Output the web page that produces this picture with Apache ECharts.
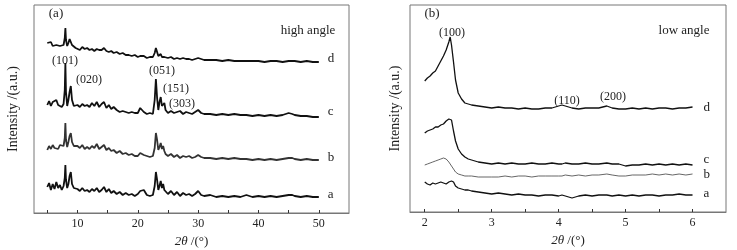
<!DOCTYPE html>
<html>
<head>
<meta charset="utf-8">
<script src="https://cdn.jsdelivr.net/npm/echarts@6/dist/echarts.min.js"></script>
<style>
  html, body { margin: 0; padding: 0; background: #fff; }
  #chart { width: 737px; height: 250px; }
</style>
</head>
<body>
<div id="chart"></div>
<script>
// (a) high angle: 2theta grid shared by the four patterns
var angleHigh = [
  5, 5.3, 5.6, 5.9, 6.2, 6.5, 6.8, 7.1, 7.4, 7.7,
  7.9, 8.0, 8.1, 8.3, 8.5, 8.7, 8.9, 9.1, 9.4, 9.7,
  10, 10.4, 10.8, 11.2, 11.6, 12, 12.4, 12.8, 13.2, 13.6,
  14, 14.4, 14.8, 15.2, 15.6, 16, 16.5, 17, 17.5, 18,
  18.5, 19, 19.5, 20, 20.4, 20.7, 21, 21.5, 22, 22.5,
  22.8, 23.0, 23.2, 23.4, 23.6, 23.8, 24.0, 24.2, 24.4, 24.6,
  25, 25.5, 26, 26.5, 27, 27.5, 28, 28.5, 29, 29.5,
  30, 30.5, 31, 32, 33, 34, 35, 36, 37, 38,
  39, 40, 41, 42, 43, 44, 45, 45.3, 45.6, 46,
  47, 48, 49, 50
]
// intensities, stacked with offsets (a.u.)
var highA = [
  26, 30, 23, 29, 24, 31, 25, 28, 23, 27,
  35, 48, 33, 25, 29, 37, 41, 29, 25, 23,
  24, 22, 25, 22, 23, 21, 24, 22, 25, 21,
  23, 26, 21, 24, 20, 22, 19, 21, 18, 20,
  18, 19, 17, 19, 22, 20, 23, 18, 17, 18,
  27, 41, 33, 23, 27, 32, 25, 29, 23, 21,
  19, 22, 18, 21, 17, 20, 18, 19, 17, 19,
  22, 18, 17, 18, 16, 17, 16, 17, 16, 18,
  16, 17, 16, 17, 16, 17, 18, 20, 18, 17,
  16, 17, 16, 16
]
var highB = [
  63, 67, 64, 68, 65, 67, 64, 68, 66, 67,
  75, 90, 73, 66, 71, 77, 80, 71, 67, 65,
  67, 65, 68, 64, 66, 64, 67, 65, 69, 64,
  66, 68, 63, 65, 62, 63, 60, 62, 59, 60,
  58, 59, 57, 57, 60, 62, 58, 57, 56, 57,
  65, 80, 73, 63, 66, 70, 64, 67, 62, 59,
  57, 59, 56, 58, 55, 57, 56, 57, 55, 56,
  58, 56, 55, 55, 54, 55, 54, 55, 54, 54,
  53, 54, 53, 54, 53, 54, 55, 57, 55, 54,
  53, 54, 53, 53
]
var highC = [
  108, 112, 107, 111, 109, 113, 108, 110, 106, 109,
  123, 150, 121, 107, 113, 121, 127, 113, 107, 105,
  108, 106, 109, 107, 108, 106, 110, 107, 111, 106,
  109, 111, 105, 108, 104, 106, 103, 101, 102, 101,
  100, 101, 100, 100, 105, 106, 101, 99, 100, 99,
  113, 134, 115, 103, 111, 116, 107, 109, 110, 103,
  100, 102, 100, 101, 102, 99, 101, 100, 99, 101,
  103, 100, 99, 99, 98, 99, 98, 99, 98, 98,
  97, 98, 97, 98, 97, 98, 100, 102, 99, 98,
  97, 97, 96, 96
]
var highD = [
  170, 168, 171, 167, 169, 168, 170, 167, 169, 168,
  175, 185, 173, 167, 170, 174, 176, 168, 166, 165,
  165, 163, 166, 164, 165, 163, 164, 162, 164, 163,
  163, 165, 162, 161, 162, 160, 161, 159, 160, 158,
  158, 157, 158, 156, 157, 156, 157, 155, 156, 156,
  160, 165, 161, 157, 158, 159, 156, 157, 156, 155,
  155, 156, 154, 155, 154, 155, 154, 154, 153, 154,
  155, 154, 153, 153, 153, 152, 153, 152, 152, 152,
  152, 152, 151, 152, 152, 151, 152, 153, 152, 152,
  151, 152, 151, 151
]

// (b) low angle
var angleLow = [
  2.00, 2.04, 2.08, 2.12, 2.16, 2.20, 2.24, 2.28, 2.32, 2.36,
  2.38, 2.40, 2.43, 2.46, 2.50, 2.55, 2.60, 2.65, 2.70, 2.80,
  2.9, 3.0, 3.1, 3.2, 3.3, 3.4, 3.5, 3.6, 3.7, 3.8,
  3.9, 4.0, 4.05, 4.1, 4.2, 4.3, 4.4, 4.5, 4.6, 4.72,
  4.8, 4.9, 5.0, 5.1, 5.2, 5.3, 5.4, 5.5, 5.6, 5.7,
  5.8, 5.9, 6.0
]
var lowA = [
  30, 28, 27, 29, 28, 29, 30, 29, 28, 30,
  29, 31, 30, 26, 24, 23, 22, 22, 21, 20,
  19, 18, 19, 18, 17, 18, 17, 17, 16, 17,
  17, 16, 17, 16, 14, 16, 17, 16, 17, 17,
  16, 17, 16, 17, 16, 17, 17, 16, 17, 17,
  18, 17, 17
]
var lowB = [
  47, 48, 49, 50, 51, 52, 53, 54, 53, 50,
  48, 46, 43, 40, 38, 37, 36, 36, 36, 35,
  35, 35, 35, 36, 35, 36, 36, 35, 36, 36,
  36, 36, 36, 37, 36, 37, 36, 37, 37, 38,
  37, 36, 36, 37, 37, 37, 38, 37, 38, 37,
  38, 37, 38
]
var lowC = [
  79, 81, 82, 83, 85, 85, 87, 88, 91, 93,
  94, 92, 81, 71, 63, 58, 55, 53, 52, 50,
  49, 48, 49, 48, 49, 48, 48, 49, 48, 48,
  49, 48, 48, 49, 48, 48, 49, 48, 48, 49,
  48, 48, 46, 47, 47, 48, 47, 48, 47, 48,
  47, 48, 47
]
var lowD = [
  131, 134, 136, 139, 141, 146, 151, 156, 162, 170,
  175, 167, 150, 132, 119, 113, 109, 108, 107, 106,
  105, 104, 105, 104, 104, 103, 104, 103, 103, 104,
  104, 106, 107, 106, 104, 103, 104, 104, 104, 106,
  104, 103, 103, 104, 103, 104, 103, 104, 104, 103,
  104, 104, 105
]

var ticksHigh = [5, 10, 15, 20, 25, 30, 35, 40, 45, 50]
var labelsHigh = [10, 20, 30, 40, 50]
var ticksLow = [2, 2.5, 3, 3.5, 4, 4.5, 5, 5.5, 6]
var labelsLow = [2, 3, 4, 5, 6]
var sampleNames = ['a', 'b', 'c', 'd']

var FONT = '"Liberation Serif", "DejaVu Serif", serif'
var TXT = '#222'

function pairs (xs, ys) {
  return xs.map(function (x, i) { return [x, ys[i]] })
}

function xAxisOf (idx, min, max, ticks, labels) {
  return {
    type: 'value',
    gridIndex: idx,
    min: min,
    max: max,
    name: '{i|2θ} /(°)',
    nameLocation: 'middle',
    nameGap: 22,
    nameTextStyle: {
      color: TXT, fontFamily: FONT, fontSize: 13,
      rich: { i: { fontStyle: 'italic', fontFamily: FONT, fontSize: 13, color: TXT } }
    },
    splitLine: { show: false },
    axisLine: { show: true, lineStyle: { color: '#777', width: 1 } },
    axisTick: { show: true, inside: true, length: 3, customValues: ticks, lineStyle: { color: '#333' } },
    axisLabel: { customValues: labels, color: TXT, fontFamily: FONT, fontSize: 12, margin: 5 }
  }
}

function yAxisOf (idx, max, gap) {
  return {
    type: 'value',
    gridIndex: idx,
    min: 0,
    max: max,
    name: 'Intensity /(a.u.)',
    nameLocation: 'middle',
    nameGap: gap,
    nameTextStyle: { color: TXT, fontFamily: FONT, fontSize: 14 },
    splitLine: { show: false },
    axisLine: { show: false },
    axisTick: { show: false },
    axisLabel: { show: false }
  }
}

function trace (axis, xs, ys, name, color, width, dist, dy) {
  return {
    type: 'line',
    xAxisIndex: axis,
    yAxisIndex: axis,
    data: pairs(xs, ys),
    symbol: 'none',
    silent: true,
    lineStyle: { color: color, width: width },
    endLabel: {
      show: true,
      formatter: name,
      distance: dist,
      offset: [0, dy],
      color: TXT,
      fontFamily: FONT,
      fontSize: 13
    }
  }
}

function note (x, y, text, size) {
  return {
    type: 'text',
    x: x,
    y: y,
    style: {
      text: text,
      fill: TXT,
      font: (size || 12) + 'px ' + FONT,
      align: 'center',
      verticalAlign: 'middle'
    }
  }
}

var chart = echarts.init(document.getElementById('chart'), null, { renderer: 'canvas' })
chart.setOption({
  animation: false,
  backgroundColor: '#fff',
  grid: [
    { left: 34, top: 5, width: 315, height: 208, show: true, borderColor: '#777', borderWidth: 1, outerBoundsMode: 'none' },
    { left: 410, top: 5, width: 316, height: 207, show: true, borderColor: '#777', borderWidth: 1, outerBoundsMode: 'none' }
  ],
  xAxis: [
    xAxisOf(0, 2.8, 55, ticksHigh, labelsHigh),
    xAxisOf(1, 1.78, 6.5, ticksLow, labelsLow)
  ],
  yAxis: [
    yAxisOf(0, 208, 14),
    yAxisOf(1, 207, 8)
  ],
  series: [
    trace(0, angleHigh, highA, sampleNames[0], '#111', 1.8, 9, -2),
    trace(0, angleHigh, highB, sampleNames[1], '#333', 1.8, 9, -2),
    trace(0, angleHigh, highC, sampleNames[2], '#111', 1.8, 9, -5),
    trace(0, angleHigh, highD, sampleNames[3], '#111', 1.8, 9, -3),
    trace(1, angleLow, lowA, sampleNames[0], '#111', 1.3, 11, -1),
    trace(1, angleLow, lowB, sampleNames[1], '#555', 0.9, 11, 1),
    trace(1, angleLow, lowC, sampleNames[2], '#111', 1.3, 11, -5),
    trace(1, angleLow, lowD, sampleNames[3], '#111', 1.3, 11, 1)
  ],
  graphic: [
    note(56, 14, '(a)', 13),
    note(308, 31, 'high angle', 13),
    note(65, 61, '(101)'),
    note(89, 80, '(020)'),
    note(162, 71, '(051)'),
    note(176, 89, '(151)'),
    note(182, 104, '(303)'),
    note(432, 14, '(b)', 13),
    note(452, 33, '(100)'),
    note(684, 31, 'low angle', 13),
    note(567, 101, '(110)'),
    note(613, 97, '(200)')
  ]
})
</script>
</body>
</html>
